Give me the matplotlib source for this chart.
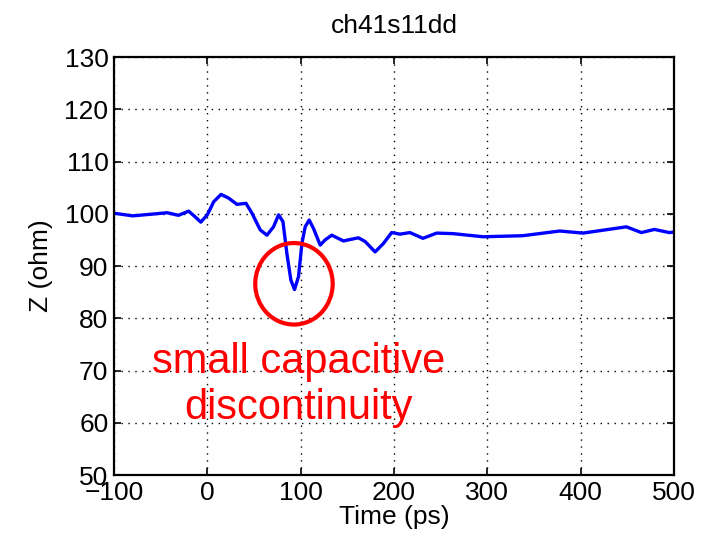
import matplotlib
matplotlib.use("Agg")
import matplotlib.pyplot as plt
from matplotlib.patches import Ellipse

# Data
time_ps = [-100, -80, -61, -43, -31, -20, -13, -7, 0, 6.8, 14.6, 22.8, 31.7, 41.4, 47.8,
           56.7, 63.8, 70.9, 76.3, 81, 85.2, 89.5, 93.4, 97.7, 101.3, 104.8, 109.1, 113.7,
           120.9, 126.2, 133.3, 145.8, 161.8, 169, 179.7, 188.6, 197.5, 206.4, 217, 231,
           245.7, 263, 295.5, 338, 377.5, 402.5, 449, 465, 479, 495, 500]
z_ohm = [100.1, 99.6, 99.9, 100.2, 99.7, 100.5, 99.4, 98.4, 99.8, 102.3, 103.7, 103.0,
         101.8, 102.0, 100.1, 96.9, 95.9, 97.5, 99.8, 98.5, 92.4, 87.3, 85.5, 88.0, 94.3,
         97.5, 98.8, 97.2, 94.0, 95.0, 95.9, 94.8, 95.4, 94.7, 92.7, 94.3, 96.4, 96.1,
         96.4, 95.3, 96.3, 96.2, 95.6, 95.8, 96.7, 96.3, 97.5, 96.4, 97.0, 96.4, 96.5]

x_ticks = [-100, 0, 100, 200, 300, 400, 500]
y_ticks = [50, 60, 70, 80, 90, 100, 110, 120, 130]

title = "ch41s11dd"
x_label = "Time (ps)"
y_label = "Z (ohm)"
note = "small capacitive\ndiscontinuity"

# circle marking the dip (centre / size in data units)
circle_center = (92.8, 86.6)
circle_size = (83, 15.6)

plt.rcParams['font.family'] = ['Liberation Sans', 'DejaVu Sans']

fig = plt.figure(figsize=(7.10, 5.43), dpi=100)
ax = fig.add_axes([0.1606, 0.1252, 0.7887, 0.7698])

ax.plot(time_ps, z_ohm, color='#0000ff', linewidth=2.4,
        solid_joinstyle='round', solid_capstyle='round')

ell = Ellipse(circle_center, circle_size[0], circle_size[1], fill=False,
              edgecolor='#ff0000', linewidth=3.0, zorder=5)
ax.add_patch(ell)

ax.text(98, 67.3, note, color='#ff0000', fontsize=30, ha='center', va='center',
        linespacing=1.2, zorder=6)

ax.set_xlim(-100, 500)
ax.set_ylim(50, 130)
ax.set_xticks(x_ticks)
ax.set_yticks(y_ticks)
ax.grid(True, linestyle=(0, (1, 4)), color='black', linewidth=1.0)
ax.tick_params(direction='in', length=5, width=1.2, labelsize=19, top=True, right=True,
               pad=4)
for s in ax.spines.values():
    s.set_linewidth(1.6)
ax.set_title(title, fontsize=19, pad=17)
ax.set_xlabel(x_label, fontsize=19, labelpad=0)
ax.set_ylabel(y_label, fontsize=19, labelpad=8)

fig.savefig("out.png", dpi=100)
